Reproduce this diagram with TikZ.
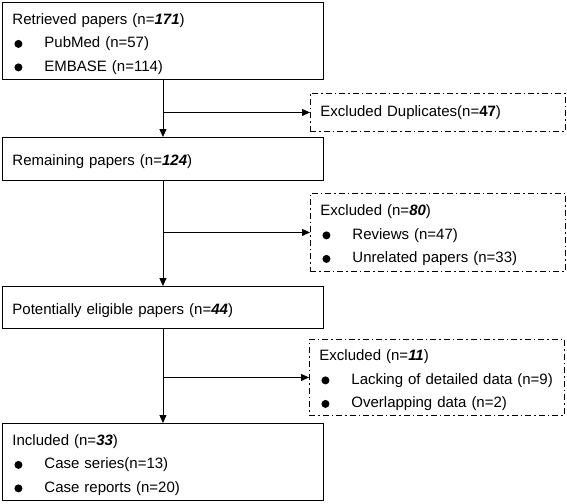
\documentclass[tikz,border=0pt]{standalone}
\usepackage{fontspec}
\setmainfont{Liberation Sans}
\usetikzlibrary{arrows.meta}

\newcommand{\bul}{\makebox[32pt][l]{\hspace{2pt}\tikz\fill (0,0) circle (4pt);}}
\newcommand{\firstrow}{\rule{0pt}{17pt}}
\newcommand{\num}[1]{\textbf{\textit{#1}}}

\begin{document}
\begin{tikzpicture}[
  x=1pt, y=-1pt,
  box/.style={draw, line width=0.9pt, rectangle, anchor=north west, align=left,
    text width=301pt, inner xsep=10pt, inner ysep=0pt,
    font=\fontsize{15}{23.5}\selectfont},
  exbox/.style={box, text width=235pt, dash pattern=on 6pt off 3pt on 1.5pt off 3pt},
  arr/.style={line width=0.9pt, -{Triangle[length=8pt,width=7pt]}}
]
  \useasboundingbox (0,0) rectangle (567,503);

  \node[box, minimum height=77pt] (ret) at (2,2) {
    \firstrow Retrieved papers (n=\num{171})\\
    \bul PubMed (n=57)\\
    \bul EMBASE (n=114)
  };
  \node[exbox, minimum height=38pt] (dup) at (310,93) {
    Excluded Duplicates(n=\textbf{47})
  };
  \node[box, minimum height=43pt] (rem) at (2,137) {
    \firstrow Remaining papers (n=\num{124})
  };
  \node[exbox, minimum height=78pt] (ex80) at (310,193) {
    \firstrow Excluded (n=\num{80})\\
    \bul Reviews (n=47)\\
    \bul Unrelated papers (n=33)
  };
  \node[box, minimum height=42pt] (pot) at (2,286) {
    \firstrow Potentially eligible papers (n=\num{44})
  };
  \node[exbox, minimum height=76pt] (ex11) at (309,339) {
    \firstrow Excluded (n=\num{11})\\
    \bul Lacking of detailed data (n=9)\\
    \bul Overlapping data (n=2)
  };
  \node[box, minimum height=77pt] (inc) at (2,423) {
    \firstrow Included (n=\num{33})\\
    \bul Case series(n=13)\\
    \bul Case reports (n=20)
  };

  \draw[arr] (ret) -- (rem);
  \draw[arr] (ret.south |- dup.west) -- (dup.west);
  \draw[arr] (rem) -- (pot);
  \draw[arr] (rem.south |- ex80.west) -- (ex80.west);
  \draw[arr] (pot) -- (inc);
  \draw[arr] (pot.south |- ex11.west) -- (ex11.west);
\end{tikzpicture}
\end{document}
